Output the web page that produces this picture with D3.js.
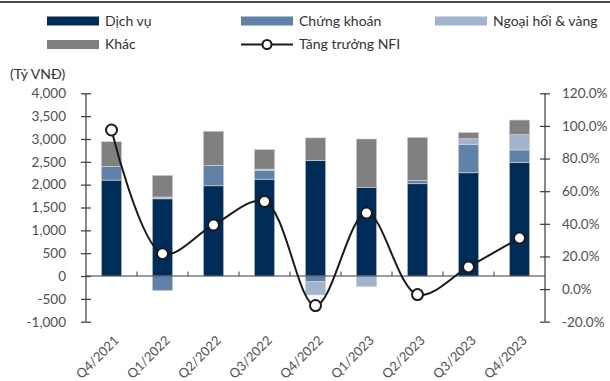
<!DOCTYPE html>
<html>
<head>
<meta charset="utf-8">
<script src="https://cdn.jsdelivr.net/npm/d3@7"></script>
<style>
  html, body { margin: 0; padding: 0; background: #fff; }
  svg { display: block; font-family: Lato, "Open Sans", sans-serif; }
</style>
</head>
<body>
<svg id="chart" width="610" height="381"></svg>
<script>
// Quarters shown on the x axis
const categories = ["Q4/2021", "Q1/2022", "Q2/2022", "Q3/2022", "Q4/2022", "Q1/2023", "Q2/2023", "Q3/2023", "Q4/2023"];
// Non-interest income components (Tỷ VNĐ)
const dichVu     = [2100, 1690, 1975, 2120, 2530, 1935, 2020, 2260, 2490];
const chungKhoan = [300, -320, 445, 190, -125, 0, 75, 620, 270];
const ngoaiHoi   = [0, 40, 0, 30, -290, -235, 0, 125, 335];
const khac       = [540, 475, 750, 430, 495, 1065, 940, 140, 320];
// NFI growth (%)
const nfiGrowth  = [97.5, 21.7, 39.3, 53.7, -10.1, 46.6, -3.4, 13.6, 31.3];
// Axis ticks
const leftTicks  = [-1000, -500, 0, 500, 1000, 1500, 2000, 2500, 3000, 3500, 4000];
const rightTicks = [-20, 0, 20, 40, 60, 80, 100, 120];

const seriesNames = ["Dịch vụ", "Chứng khoán", "Ngoại hối & vàng", "Khác"];
const seriesColors = ["#002c5a", "#6081a8", "#a1b3cd", "#808080"];

const svg = d3.select("#chart");
const plotLeft = 86, plotRight = 545, plotTop = 93.3, plotBottom = 321.7;

const x = d3.scaleBand().domain(categories).range([plotLeft, plotRight]).paddingInner(0.6).paddingOuter(0.3);
const yL = d3.scaleLinear().domain([-1000, 4000]).range([plotBottom, plotTop]);
const yR = d3.scaleLinear().domain([-20, 120]).range([plotBottom, plotTop]);

const axisColor = "#3a3a3a";
const textColor = "#505050";
const thousands = d3.format(",");

// Top rule
svg.append("line").attr("x1", 0).attr("x2", 610).attr("y1", 2).attr("y2", 2)
  .attr("stroke", "#111").attr("stroke-width", 1.5);

// Stacked bars
const rows = categories.map((c, i) => ({
  cat: c, "Dịch vụ": dichVu[i], "Chứng khoán": chungKhoan[i],
  "Ngoại hối & vàng": ngoaiHoi[i], "Khác": khac[i]
}));
const stacked = d3.stack().keys(seriesNames).offset(d3.stackOffsetDiverging)(rows);

svg.append("g").selectAll("g").data(stacked).join("g")
  .attr("fill", (d, i) => seriesColors[i])
  .selectAll("rect").data(d => d.filter(p => p[1] !== p[0])).join("rect")
  .attr("x", d => x(d.data.cat))
  .attr("width", x.bandwidth())
  .attr("y", d => yL(Math.max(d[0], d[1])))
  .attr("height", d => Math.abs(yL(d[0]) - yL(d[1])))
  .attr("stroke", "#d8d8d8").attr("stroke-width", 0.6);

// Zero line with inner category ticks
svg.append("line").attr("x1", plotLeft).attr("x2", plotRight).attr("y1", yL(0)).attr("y2", yL(0))
  .attr("stroke", axisColor).attr("stroke-width", 1.2);
svg.append("g").selectAll("line").data(categories.slice(1)).join("line")
  .attr("x1", d => x(d) - x.step() * x.paddingInner() / 2)
  .attr("x2", d => x(d) - x.step() * x.paddingInner() / 2)
  .attr("y1", yL(0)).attr("y2", yL(0) - 4.5)
  .attr("stroke", axisColor).attr("stroke-width", 1);

// Left axis
const gL = svg.append("g").attr("transform", `translate(${plotLeft},0)`)
  .call(d3.axisLeft(yL).tickValues(leftTicks).tickSize(5).tickPadding(15)
    .tickFormat(d => thousands(d).replace("\u2212", "-")));
gL.selectAll(".tick line").attr("x2", 5).attr("x1", -5);
// Right axis
const gR = svg.append("g").attr("transform", `translate(${plotRight},0)`)
  .call(d3.axisRight(yR).tickValues(rightTicks).tickSize(5).tickPadding(12).tickFormat(d => d.toFixed(1) + "%"));
gR.selectAll(".tick line").attr("x1", -5).attr("x2", 5);

[gL, gR].forEach(g => {
  g.select(".domain").attr("stroke", axisColor).attr("stroke-width", 1.2)
    .attr("d", `M0,${plotTop}V${plotBottom}`);
  g.selectAll(".tick line").attr("stroke", axisColor).attr("stroke-width", 1.2);
  g.selectAll(".tick text").attr("fill", textColor).attr("font-size", 13.5)
    .attr("font-family", "Lato, sans-serif");
});

// Unit label
svg.append("text").attr("x", 10).attr("y", 79).attr("fill", "#333")
  .attr("font-size", 14).text("(Tỷ VNĐ)");

// Category labels, rotated
svg.append("g").selectAll("text").data(categories).join("text")
  .attr("transform", d => `translate(${x(d) + x.bandwidth() / 2 + 5},${338}) rotate(-45)`)
  .attr("text-anchor", "end").attr("dy", "0.35em")
  .attr("fill", textColor).attr("font-size", 13).text(d => d);

// Growth line
const line = d3.line()
  .x((d, i) => x(categories[i]) + x.bandwidth() / 2)
  .y(d => yR(d))
  .curve(d3.curveCatmullRom.alpha(0.5));
svg.append("path").datum(nfiGrowth).attr("d", line)
  .attr("fill", "none").attr("stroke", "#1a1a1a").attr("stroke-width", 2);
svg.append("g").selectAll("circle").data(nfiGrowth).join("circle")
  .attr("cx", (d, i) => x(categories[i]) + x.bandwidth() / 2)
  .attr("cy", d => yR(d))
  .attr("r", 5.5).attr("fill", "#fff").attr("stroke", "#1a1a1a").attr("stroke-width", 2);

// Legend
const legendItems = [
  { name: "Dịch vụ", color: seriesColors[0], x: 47, y: 21 },
  { name: "Chứng khoán", color: seriesColors[1], x: 241, y: 21 },
  { name: "Ngoại hối & vàng", color: seriesColors[2], x: 435, y: 21 },
  { name: "Khác", color: seriesColors[3], x: 47, y: 44.5 }
];
const lg = svg.append("g");
legendItems.forEach(it => {
  lg.append("rect").attr("x", it.x).attr("y", it.y - 4.5).attr("width", 52).attr("height", 9).attr("fill", it.color);
  lg.append("text").attr("x", it.x + 58).attr("y", it.y).attr("dy", "0.35em")
    .attr("fill", "#333").attr("font-size", 14).text(it.name);
});
lg.append("line").attr("x1", 241).attr("x2", 293).attr("y1", 44.5).attr("y2", 44.5)
  .attr("stroke", "#1a1a1a").attr("stroke-width", 2);
lg.append("circle").attr("cx", 267).attr("cy", 44.5).attr("r", 4.5)
  .attr("fill", "#fff").attr("stroke", "#1a1a1a").attr("stroke-width", 2);
lg.append("text").attr("x", 299).attr("y", 44.5).attr("dy", "0.35em")
  .attr("fill", "#333").attr("font-size", 14).text("Tăng trưởng NFI");
</script>
</body>
</html>
